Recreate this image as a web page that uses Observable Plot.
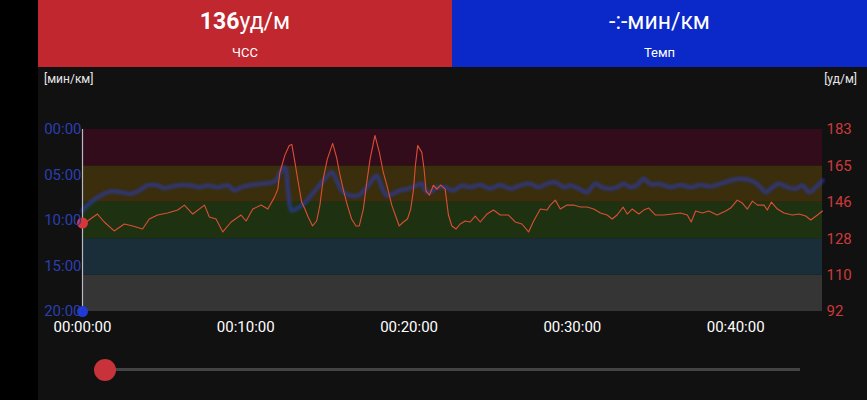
<!DOCTYPE html>
<html>
<head>
<meta charset="utf-8">
<script src="https://cdn.jsdelivr.net/npm/d3@7"></script>
<script src="https://cdn.jsdelivr.net/npm/@observablehq/plot@0.6"></script>
<style>
  html, body { margin: 0; padding: 0; background: #000; width: 867px; height: 400px; overflow: hidden; font-family: Roboto, "Noto Sans", sans-serif; }
  #panel { position: absolute; left: 38px; top: 0; width: 829px; height: 400px; background: #111111; }
  .hdr { position: absolute; top: 0; height: 67px; color: #fff; text-align: center; }
  .big { position: absolute; left: 0; right: 0; top: 7px; font-size: 23px; line-height: 30px; }
  .small { position: absolute; left: 0; right: 0; top: 44px; font-size: 13px; line-height: 18px; }
  .unit { position: absolute; top: 72px; font-size: 12px; color: #e8e8e8; }
  #chart { position: absolute; left: 0; top: 67px; }
  #chart .pace { filter: blur(0.8px); }
  #track { position: absolute; left: 67px; top: 368px; width: 695px; height: 3px; background: #444; }
  #knob { position: absolute; left: 56px; top: 359px; width: 22px; height: 22px; border-radius: 50%; background: #c8323a; }
</style>
</head>
<body>
<div id="panel">
  <div class="hdr" style="left:0;width:414px;background:#c0272f;">
    <div class="big"><b>136</b>уд/м</div>
    <div class="small">ЧСС</div>
  </div>
  <div class="hdr" style="left:414px;width:415px;background:#0b29c9;">
    <div class="big">-:-мин/км</div>
    <div class="small">Темп</div>
  </div>
  <div class="unit" style="left:6px;">[мин/км]</div>
  <div class="unit" style="right:10px;">[уд/м]</div>
  <div id="chart"></div>
  <div id="track"></div>
  <div id="knob"></div>
</div>
<script>
// Heart rate series (time in minutes, bpm)
const hrTime = [0,0.31,0.92,1.33,1.94,2.56,3.07,3.68,4.09,4.60,5.21,5.83,6.24,6.75,7.47,7.77,8.18,8.59,9.10,9.71,10.02,10.43,10.94,11.35,11.76,11.96,12.09,12.39,12.66,12.82,13.01,13.21,13.42,13.62,13.82,14.09,14.34,14.54,14.74,14.99,15.32,15.56,15.77,16.01,16.22,16.48,16.75,16.95,17.20,17.41,17.61,17.91,18.18,18.42,18.67,18.94,19.20,19.40,19.65,19.90,20.10,20.26,20.39,20.53,20.78,20.92,21.04,21.25,21.49,21.70,21.94,22.21,22.41,22.62,22.88,23.13,23.44,23.74,24.05,24.36,24.77,25.17,25.58,26.09,26.50,26.91,27.32,27.63,28.04,28.45,28.65,28.96,29.26,29.67,30.08,30.49,30.90,31.31,31.72,32.13,32.44,32.74,33.11,33.36,33.66,34.07,34.37,34.68,35.09,35.60,36.12,36.63,37.04,37.28,37.55,37.96,38.36,38.87,39.39,39.69,40.10,40.41,40.72,41.03,41.34,41.74,41.94,42.19,42.56,42.96,43.48,43.88,44.29,44.60,45.01,45.32];
const hrValue = [136,137,140.5,136.5,132,135.5,134.5,133,138,140,141,142.5,145,140.5,145,139,138,131.5,136.5,140,137,143,145,143,149,153,161.5,170,175,175.5,166.5,156.5,146.5,143,139,134.5,137,145,158,168,176,169,160,151.5,145,138,134.5,134.5,143,156.5,168,180,171.5,161.5,154,145,139,134.5,136.5,138,143,152,165,175,171.5,163,152,150,155,153,155,153,140,134.5,133,135.5,137,136.5,139.5,136.5,140.5,142.5,140,140,136.5,135.5,131.5,137,143,142.5,145,147.5,143,145,145,144,144,143,141,140,138,140,144,140.5,143,140.5,142.5,143.5,140,140,140.5,141,140,136.5,142,141,142,140,142,143.5,147.5,146,143,147,145,145,142.5,146.5,143,141,140,140.5,139.5,137.5,140,142];

// Pace series (time in minutes, pace in minutes per km)
const paceTime = [0,0.51,1.12,1.74,2.35,2.96,3.48,3.99,4.50,5.01,5.52,6.03,6.64,7.16,7.67,8.28,8.90,9.31,9.71,10.33,10.94,11.55,11.86,12.09,12.39,12.60,12.80,13.11,13.52,13.93,14.34,14.85,15.26,15.66,15.97,16.38,16.89,17.41,17.81,18.02,18.33,18.63,19.04,19.45,19.96,20.47,20.78,20.98,21.29,21.70,22.21,22.72,23.23,23.74,24.36,24.97,25.58,26.20,26.81,27.42,27.93,28.45,28.96,29.47,29.88,30.39,30.90,31.41,31.82,32.33,32.74,33.15,33.56,33.97,34.37,34.79,35.40,36.01,36.63,37.24,37.85,38.47,39.08,39.69,40.31,40.92,41.43,41.84,42.25,42.66,43.17,43.68,44.09,44.50,44.91,45.32];
const paceValue = [8.9,8.0,7.25,6.8,6.9,7.05,6.7,6.15,6.1,6.45,6.25,6.1,6.15,6.35,6.15,6.35,6.15,6.7,6.35,6.1,5.95,5.85,5.6,4.7,4.15,6.9,8.9,8.7,8.2,7.4,6.5,5.4,4.7,6.0,6.9,7.25,7.25,6.35,5.4,5.05,6.35,7.25,7.05,6.7,6.5,6.15,5.95,6.7,6.9,6.35,6.35,6.7,6.15,6.35,6.1,6.5,6.1,6.5,6.15,5.95,6.35,5.95,5.8,6.35,6.15,6.5,6.9,5.95,6.35,6.5,6.35,5.95,6.35,6.1,5.4,6.0,6.0,6.35,6.1,6.35,6.1,6.25,5.95,5.6,5.4,5.6,6.15,6.9,6.35,5.95,6.35,6.5,6.15,6.9,6.35,5.6];

// Axes / zones
const totalTime = 45.32;
const timeTicks = [0, 10, 20, 30, 40];
const hrZoneEdges = [91.5, 109.8, 128.1, 146.4, 164.7, 183];
const hrTickLabels = [92, 110, 128, 146, 165, 183];
const zoneColors = ["#353535", "#1a2e3a", "#1e3212", "#3a2e0d", "#330c1b"];
const paceTicks = [0, 5, 10, 15, 20];
const paceTickLabels = ["00:00", "05:00", "10:00", "15:00", "20:00"];
const cursorTime = 0;
const cursorHr = 136;
const cursorPace = 20;

const hrMin = hrZoneEdges[0], hrMax = hrZoneEdges[hrZoneEdges.length - 1];
const paceMax = 20;
const paceToY = p => hrMax - p * (hrMax - hrMin) / paceMax;

const hrData = hrTime.map((t, i) => ({t, v: hrValue[i]}));
const paceData = paceTime.map((t, i) => ({t, p: paceValue[i]}));
const zones = zoneColors.map((c, i) => ({y1: hrZoneEdges[i], y2: hrZoneEdges[i + 1], c}));

const chart = Plot.plot({
  width: 829,
  height: 333,
  marginLeft: 44,
  marginRight: 45,
  marginTop: 62,
  marginBottom: 89,
  style: {background: "transparent", color: "#fff", fontFamily: "Roboto, sans-serif", fontSize: "15px"},
  x: {domain: [0, totalTime]},
  y: {domain: [hrMin, hrMax]},
  marks: [
    Plot.rect(zones, {x1: 0, x2: totalTime, y1: "y1", y2: "y2", fill: "c"}),
    Plot.line(paceData, {x: "t", y: d => paceToY(d.p), stroke: "#2c3cae", strokeOpacity: 0.6, strokeWidth: 4.5, curve: "catmull-rom", className: "pace"}),
    Plot.line(hrData, {x: "t", y: "v", stroke: "#dc4e34", strokeWidth: 1.1}),
    Plot.ruleX([cursorTime], {y1: hrMin, y2: hrMax, stroke: "#b8b8c8", strokeWidth: 1.2}),
    Plot.dot([{t: cursorTime, v: cursorHr}], {x: "t", y: "v", r: 5.5, fill: "#d8363c"}),
    Plot.dot([{t: cursorTime, p: cursorPace}], {x: "t", y: d => paceToY(d.p), r: 5.5, fill: "#1f3ad8"}),
    Plot.axisX(timeTicks, {anchor: "bottom", tickSize: 0, tickPadding: 10, fill: "#fff", fontSize: 15,
      tickFormat: t => `00:${String(t).padStart(2, "0")}:00`, label: null}),
    Plot.axisY(paceTicks.map(paceToY), {anchor: "left", tickSize: 0, tickPadding: 1, fill: "#2b3fb0", fontSize: 15,
      tickFormat: (v, i) => paceTickLabels[i], label: null}),
    Plot.axisY(hrZoneEdges, {anchor: "right", tickSize: 0, tickPadding: 4, fill: "#cc3a3a", fontSize: 15,
      tickFormat: (v, i) => String(hrTickLabels[i]), label: null})
  ]
});
document.getElementById("chart").appendChild(chart);
</script>
</body>
</html>
